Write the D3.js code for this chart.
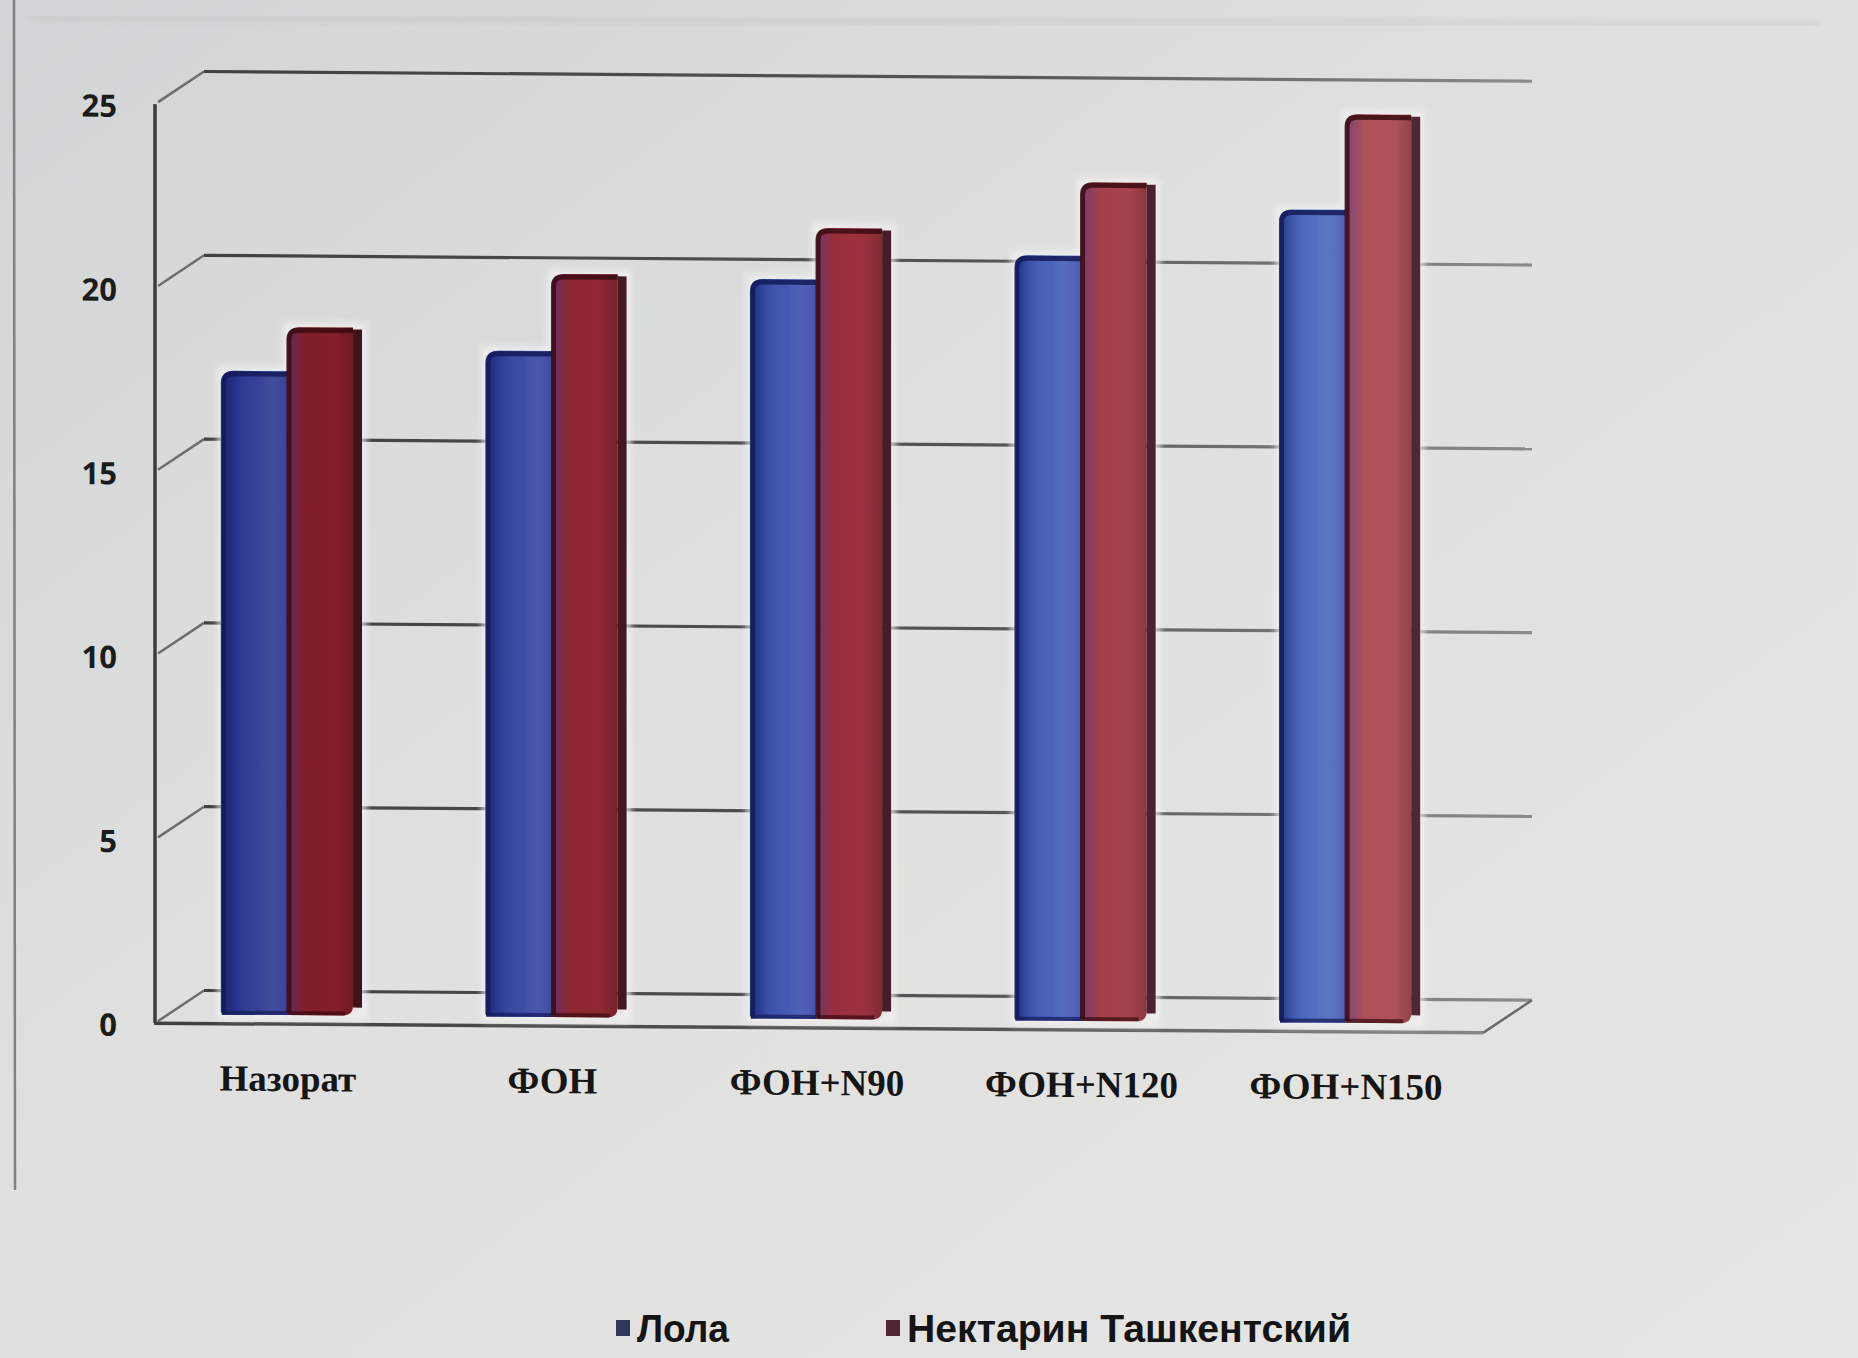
<!DOCTYPE html>
<html>
<head>
<meta charset="utf-8">
<script src="https://cdn.jsdelivr.net/npm/d3@7"></script>
<style>
  html, body { margin: 0; padding: 0; background: #dcdddc; }
  svg { display: block; }
</style>
</head>
<body>
<svg id="chart" width="1858" height="1358"></svg>
<script>
// Categories (fertiliser treatments) and the two series
const categories = ["Назорат", "ФОН", "ФОН+N90", "ФОН+N120", "ФОН+N150"];
const seriesNames = ["Лола", "Нектарин Ташкентский"];
const lolaValues = [17.3, 17.9, 19.9, 20.6, 21.9];
const nektarinValues = [18.5, 20.0, 21.3, 22.6, 24.5];
const yTickValues = [0, 5, 10, 15, 20, 25];

const W = 1858, H = 1358;
const svg = d3.select("#chart");
const defs = svg.append("defs");

// ---------- gradients ----------
function linGrad(id, attrs, stops) {
  const g = defs.append("linearGradient").attr("id", id);
  Object.entries(attrs).forEach(([k, v]) => g.attr(k, v));
  stops.forEach(s => g.append("stop").attr("offset", s[0]).attr("stop-color", s[1]).attr("stop-opacity", s[2] == null ? 1 : s[2]));
  return g;
}
linGrad("bg", {x1: 0, y1: 0, x2: 1, y2: 1}, [[0, "#d3d4d5"], [0.45, "#dfe0df"], [1, "#e6e7e3"]]);
linGrad("blueBase", {gradientUnits: "userSpaceOnUse", x1: 200, y1: 0, x2: 1420, y2: 0},
  [[0, "#29368f"], [0.5, "#3b53b0"], [1, "#4d6dc2"]]);
linGrad("redBase", {gradientUnits: "userSpaceOnUse", x1: 200, y1: 0, x2: 1420, y2: 0},
  [[0, "#7c1a22"], [0.5, "#982e3a"], [1, "#b0545a"]]);
linGrad("blueShade", {x1: 0, y1: 0, x2: 1, y2: 0},
  [[0, "#0c1250", 0.55], [0.22, "#0c1250", 0.12], [0.55, "#ffffff", 0.04], [1, "#5a4aa0", 0.3]]);
linGrad("redShade", {x1: 0, y1: 0, x2: 1, y2: 0},
  [[0, "#4a3a9a", 0.5], [0.28, "#4a3a9a", 0.0], [0.75, "#000000", 0.0], [1, "#2a0008", 0.2]]);
linGrad("sideShade", {gradientUnits: "userSpaceOnUse", x1: 200, y1: 0, x2: 1420, y2: 0},
  [[0, "#3e0f18"], [1, "#4e2836"]]);
linGrad("gridStroke", {gradientUnits: "userSpaceOnUse", x1: 150, y1: 0, x2: 1540, y2: 0},
  [[0, "#3f3f3f"], [0.6, "#555555"], [1, "#8c8c8c"]]);
const blur = defs.append("filter").attr("id", "soft").attr("x", "-20%").attr("y", "-20%").attr("width", "140%").attr("height", "140%");
blur.append("feGaussianBlur").attr("stdDeviation", 3);

// ---------- background ----------
svg.append("rect").attr("width", W).attr("height", H).attr("fill", "url(#bg)");
// chart-area frame (left and top edges)
svg.append("line").attr("x1", 14).attr("y1", 0).attr("x2", 15).attr("y2", 1190)
  .attr("stroke", "#6a6a6a").attr("stroke-width", 2.5).attr("opacity", 0.8);
svg.append("line").attr("x1", 30).attr("y1", 18).attr("x2", 1820).attr("y2", 24)
  .attr("stroke", "#9a9a9a").attr("stroke-width", 3).attr("opacity", 0.35).attr("filter", "url(#soft)");

// ---------- scales ----------
const axisX = 155;
const floorRight = 1483;
const depth = {dx: 49, dy: -33};
const yFront = d3.scaleLinear().domain([0, 25]).range([1022, 103]);
const barBottom = yFront(0) - 9;           // front face of the columns
const yBarTop = v => yFront(v) - 17;      // top edge of a column
const x0 = d3.scaleBand().domain(categories).range([157, 1485]).paddingInner(0.47).paddingOuter(0.245);
const sideW = 9;
const x1 = d3.scaleBand().domain(seriesNames).range([0, x0.bandwidth() - sideW]);

// slight keystone of the plotted area
const tilt = Math.tan(0.42 * Math.PI / 180);
const plot = svg.append("g").attr("transform", `matrix(1,${tilt},0,1,0,0)`);

// ---------- walls, floor and gridlines ----------
const gridStroke = "url(#gridStroke)";
yTickValues.forEach(v => {
  const yf = yFront(v), yb = yf + depth.dy;
  // side wall diagonal
  plot.append("line").attr("x1", axisX + 3).attr("y1", yf - 2).attr("x2", axisX + depth.dx).attr("y2", yb)
    .attr("stroke", "#4a4a4a").attr("stroke-width", 2.5).attr("opacity", 0.75);
  // back wall gridline
  plot.append("line").attr("x1", axisX + depth.dx).attr("y1", yb).attr("x2", floorRight + depth.dx).attr("y2", yb)
    .attr("stroke", gridStroke).attr("stroke-width", 3.2);
});
// front vertical axis
plot.append("line").attr("x1", axisX).attr("y1", yFront(25)).attr("x2", axisX).attr("y2", yFront(0))
  .attr("stroke", "#3c3c3c").attr("stroke-width", 3.5);
// floor front edge and right edge
plot.append("line").attr("x1", axisX - 1).attr("y1", yFront(0)).attr("x2", floorRight).attr("y2", yFront(0))
  .attr("stroke", gridStroke).attr("stroke-width", 3.5);
plot.append("line").attr("x1", floorRight).attr("y1", yFront(0)).attr("x2", floorRight + depth.dx).attr("y2", yFront(0) + depth.dy)
  .attr("stroke", "#6a6a6a").attr("stroke-width", 2.5);

// ---------- columns ----------
function columnPath(x, w, top, bottom, rTop, rBottomRight) {
  return `M${x},${bottom} L${x},${top + rTop} Q${x},${top} ${x + rTop},${top} ` +
         `L${x + w},${top} L${x + w},${bottom - rBottomRight} ` +
         `Q${x + w},${bottom} ${x + w - rBottomRight},${bottom} Z`;
}

const rows = categories.map((c, i) => ({cat: c, vals: [lolaValues[i], nektarinValues[i]]}));
const groups = plot.selectAll("g.cat").data(rows).join("g").attr("class", "cat");

// soft light halo behind the columns
groups.each(function(d) {
  const g = d3.select(this);
  const bx = x0(d.cat) + x1(seriesNames[0]), rx = x0(d.cat) + x1(seriesNames[1]);
  g.append("path")
    .attr("d", `M${bx},${barBottom} L${bx},${yBarTop(d.vals[0])} L${rx},${yBarTop(d.vals[0])} L${rx},${yBarTop(d.vals[1])} L${rx + x1.bandwidth() + sideW},${yBarTop(d.vals[1])} L${rx + x1.bandwidth() + sideW},${barBottom} Z`)
    .attr("fill", "none").attr("stroke", "#f4f2f2").attr("stroke-width", 9).attr("opacity", 0.75)
    .attr("filter", "url(#soft)");
});

seriesNames.forEach((s, si) => {
  const isRed = si === 1;
  const w = x1.bandwidth();
  groups.each(function(d) {
    const g = d3.select(this).append("g");
    const x = x0(d.cat) + x1(s), top = yBarTop(d.vals[si]);
    const p = columnPath(x, w, top, barBottom, 12, isRed ? 10 : 0);
    g.append("path").attr("d", p).attr("fill", isRed ? "url(#redBase)" : "url(#blueBase)");
    g.append("path").attr("d", p).attr("fill", isRed ? "url(#redShade)" : "url(#blueShade)");
    // dark rim along the top and left edge
    g.append("path")
      .attr("d", `M${x + 1.5},${barBottom - 2} L${x + 1.5},${top + 12} Q${x + 1.5},${top + 3} ${x + 12},${top + 3} L${x + w},${top + 3}`)
      .attr("fill", "none").attr("stroke", isRed ? "#3a0a12" : "#141a5a").attr("stroke-width", 5).attr("opacity", 0.85);
    // bottom edge
    g.append("line").attr("x1", x).attr("y1", barBottom - 2).attr("x2", x + w - (isRed ? 8 : 0)).attr("y2", barBottom - 2)
      .attr("stroke", isRed ? "#3a0a12" : "#141a5a").attr("stroke-width", 4).attr("opacity", 0.7);
    if (isRed) {
      // right-hand side face of the cluster
      g.append("rect").attr("x", x + w).attr("y", top + 2).attr("width", sideW).attr("height", barBottom - top - 10)
        .attr("fill", "url(#sideShade)");
    }
  });
});

// ---------- axis labels ----------
plot.selectAll("text.ytick").data(yTickValues).join("text").attr("class", "ytick")
  .attr("x", 117).attr("y", d => yFront(d) + 1)
  .attr("text-anchor", "end").attr("dominant-baseline", "central")
  .attr("font-family", "'Open Sans', 'Liberation Sans', sans-serif").attr("font-weight", 700)
  .attr("font-size", 31).attr("fill", "#1c1c1c")
  .text(d => d);

plot.selectAll("text.xcat").data(categories).join("text").attr("class", "xcat")
  .attr("x", d => x0(d) + x0.bandwidth() / 2 - 4).attr("y", 1089)
  .attr("text-anchor", "middle")
  .attr("font-family", "'Liberation Serif', 'Times New Roman', serif").attr("font-weight", 700)
  .attr("font-size", 37).attr("fill", "#151515")
  .text(d => d);

// ---------- legend ----------
const legendItems = [
  {name: seriesNames[0], x: 616, color: "#30365c", len: 92},
  {name: seriesNames[1], x: 886, color: "#4e2630", len: 444}
];
const legend = svg.append("g");
legendItems.forEach(it => {
  legend.append("rect").attr("x", it.x).attr("y", 1320).attr("width", 14).attr("height", 16).attr("fill", it.color);
  legend.append("text").attr("x", it.x + 21).attr("y", 1342)
    .attr("font-family", "'Liberation Sans', Arial, sans-serif").attr("font-weight", 700)
    .attr("font-size", 38).attr("fill", "#141414")
    .attr("textLength", it.len).attr("lengthAdjust", "spacingAndGlyphs")
    .text(it.name);
});
</script>
</body>
</html>
